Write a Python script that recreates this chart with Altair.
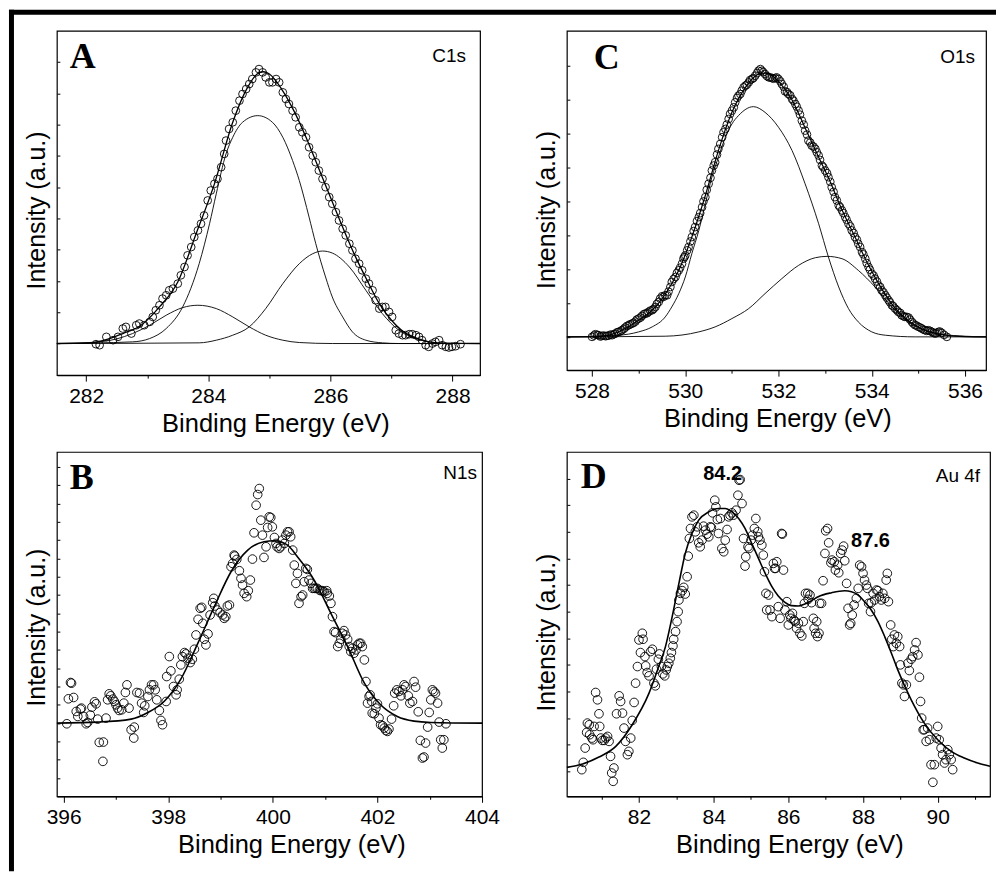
import altair as alt
import pandas as pd

# ---------------- Panel A : C1s ----------------
A_POINTS = [(282.16, 93), (282.22, 90), (282.33, 115), (282.44, 105), (282.52, 115), (282.60, 140), (282.65, 145),
            (282.74, 125), (282.82, 150), (282.87, 155), (282.95, 150), (283.04, 160), (283.09, 175), (283.14, 195),
            (283.20, 210), (283.25, 230), (283.31, 240), (283.36, 255), (283.42, 260), (283.50, 275), (283.55, 300),
            (283.61, 325), (283.66, 360), (283.72, 385), (283.77, 415), (283.83, 435), (283.88, 455), (283.93, 480),
            (283.99, 525), (284.04, 555), (284.10, 575), (284.15, 590), (284.21, 625), (284.26, 665), (284.29, 705),
            (284.34, 740), (284.40, 760), (284.45, 795), (284.51, 825), (284.56, 845), (284.62, 860), (284.67, 875),
            (284.72, 890), (284.78, 910), (284.83, 920), (284.89, 910), (284.94, 895), (285.00, 880), (285.05, 880),
            (285.11, 890), (285.16, 880), (285.22, 850), (285.27, 830), (285.32, 815), (285.38, 795), (285.43, 775),
            (285.49, 745), (285.54, 730), (285.60, 715), (285.65, 685), (285.71, 660), (285.76, 640), (285.81, 615),
            (285.87, 590), (285.92, 565), (285.98, 535), (286.03, 515), (286.09, 490), (286.14, 465), (286.20, 440),
            (286.25, 420), (286.31, 395), (286.36, 375), (286.41, 350), (286.47, 335), (286.52, 315), (286.58, 290),
            (286.63, 275), (286.69, 255), (286.74, 225), (286.80, 200), (286.85, 205), (286.90, 205), (286.96, 190),
            (287.01, 175), (287.07, 135), (287.12, 125), (287.18, 120), (287.23, 120), (287.29, 123), (287.34, 123),
            (287.40, 120), (287.45, 115), (287.50, 105), (287.56, 90), (287.61, 85), (287.67, 95), (287.72, 100),
            (287.78, 105), (287.83, 90), (287.89, 85), (287.94, 83), (287.99, 85), (288.05, 87), (288.13, 93)]
A_ENVELOPE = [(281.52, 95), (282.00, 96), (282.30, 105), (282.60, 125), (282.90, 150), (283.20, 205), (283.50, 280),
              (283.80, 425), (284.10, 575), (284.40, 760), (284.60, 850), (284.80, 905), (284.90, 912), (285.00, 905),
              (285.20, 860), (285.40, 795), (285.60, 715), (285.80, 625), (286.00, 535), (286.20, 445), (286.40, 360),
              (286.60, 285), (286.80, 215), (287.00, 165), (287.20, 130), (287.40, 112), (287.60, 101), (287.90, 96),
              (288.45, 95)]
A_PEAK1 = [(281.52, 95), (282.22, 100), (282.76, 125), (283.04, 150), (283.31, 180), (283.58, 203), (283.83, 210),
           (284.13, 200), (284.40, 175), (284.67, 145), (284.94, 120), (285.22, 105), (285.49, 98), (286.03, 95),
           (288.45, 95)]
A_PEAK2 = [(281.52, 95), (282.76, 100), (283.04, 110), (283.31, 140), (283.58, 205), (283.85, 335), (284.02, 455),
           (284.13, 545), (284.29, 665), (284.40, 715), (284.56, 760), (284.81, 780), (285.05, 760), (285.22, 715),
           (285.38, 645), (285.49, 585), (285.65, 475), (285.76, 395), (285.92, 295), (286.03, 235), (286.20, 175),
           (286.36, 130), (286.58, 105), (286.85, 97), (287.12, 95), (288.45, 95)]
A_PEAK3 = [(281.52, 95), (283.85, 97), (284.13, 105), (284.40, 120), (284.67, 145), (284.94, 200), (285.22, 275),
           (285.49, 335), (285.71, 365), (285.87, 373), (286.03, 367), (286.31, 325), (286.58, 255), (286.85, 185),
           (287.12, 135), (287.40, 110), (287.67, 98), (287.94, 95), (288.45, 95)]
A_XTICKS = [282, 283, 284, 285, 286, 287, 288]
A_YTICKS = [95, 189, 283, 377, 471, 565, 659, 753, 847, 941]

# ---------------- Panel C : O1s ----------------
C_POINTS = [(528.00, 100), (528.07, 108), (528.14, 105), (528.21, 103), (528.29, 102), (528.36, 104), (528.43, 105),
            (528.50, 110), (528.57, 115), (528.64, 120), (528.71, 128), (528.79, 135), (528.86, 140), (528.93, 146),
            (529.00, 155), (529.07, 163), (529.14, 170), (529.21, 175), (529.29, 180), (529.36, 190), (529.43, 205),
            (529.50, 222), (529.57, 225), (529.61, 225), (529.68, 250), (529.71, 265), (529.79, 280), (529.86, 300),
            (529.93, 320), (529.96, 335), (530.00, 345), (530.07, 370), (530.14, 400), (530.21, 430), (530.29, 460),
            (530.36, 490), (530.43, 520), (530.50, 560), (530.57, 600), (530.64, 625), (530.71, 665), (530.79, 700),
            (530.86, 725), (530.93, 755), (531.00, 780), (531.07, 805), (531.14, 825), (531.21, 840), (531.29, 855),
            (531.36, 865), (531.43, 875), (531.50, 885), (531.57, 900), (531.61, 905), (531.64, 900), (531.71, 890),
            (531.79, 880), (531.86, 878), (531.93, 878), (532.00, 875), (532.07, 860), (532.14, 838), (532.21, 830),
            (532.29, 815), (532.36, 800), (532.43, 780), (532.50, 750), (532.57, 720), (532.64, 690), (532.71, 675),
            (532.79, 665), (532.82, 655), (532.86, 645), (532.93, 615), (533.00, 600), (533.07, 580), (533.14, 550),
            (533.21, 520), (533.29, 495), (533.36, 480), (533.43, 460), (533.50, 440), (533.57, 420), (533.64, 400),
            (533.71, 380), (533.79, 355), (533.86, 335), (533.93, 310), (534.00, 290), (534.07, 275), (534.14, 255),
            (534.21, 240), (534.29, 225), (534.36, 210), (534.43, 195), (534.50, 185), (534.57, 175), (534.64, 165),
            (534.71, 160), (534.79, 158), (534.86, 145), (534.93, 135), (535.00, 130), (535.07, 125), (535.14, 120),
            (535.21, 120), (535.29, 115), (535.36, 110), (535.43, 115), (535.50, 112), (535.61, 100)]
# second row of the dense O1s scan (circles lying between the ones above)
C_POINTS_2 = [(528.04, 104), (528.11, 106), (528.18, 101), (528.25, 104), (528.32, 103), (528.40, 107),
              (528.47, 108), (528.54, 114), (528.61, 117), (528.68, 124), (528.75, 133), (528.82, 138),
              (528.89, 142), (528.96, 152), (529.04, 158), (529.11, 168), (529.18, 171), (529.25, 179),
              (529.32, 184), (529.39, 199), (529.46, 215), (529.53, 220), (529.64, 236), (529.75, 274),
              (529.82, 292), (529.89, 308), (529.98, 340), (530.04, 360), (530.11, 387), (530.18, 418),
              (530.25, 448), (530.32, 472), (530.39, 507), (530.46, 542), (530.54, 578), (530.61, 615),
              (530.68, 648), (530.75, 680), (530.82, 715), (530.89, 738), (530.96, 770), (531.04, 790),
              (531.11, 818), (531.18, 830), (531.25, 850), (531.32, 858), (531.39, 872), (531.46, 878),
              (531.54, 893), (531.67, 896), (531.75, 884), (531.82, 880), (531.89, 876), (531.96, 880),
              (532.04, 868), (532.11, 852), (532.18, 836), (532.25, 826), (532.32, 810), (532.39, 792),
              (532.46, 768), (532.54, 738), (532.61, 708), (532.68, 684), (532.75, 672), (532.89, 632),
              (532.96, 610), (533.04, 592), (533.11, 566), (533.18, 536), (533.25, 510), (533.32, 490),
              (533.39, 472), (533.46, 452), (533.54, 432), (533.61, 412), (533.68, 392), (533.75, 370),
              (533.82, 348), (533.89, 322), (533.96, 302), (534.04, 284), (534.11, 266), (534.18, 250),
              (534.25, 234), (534.32, 218), (534.39, 204), (534.46, 192), (534.54, 180), (534.61, 172),
              (534.68, 162), (534.75, 160), (534.82, 152), (534.89, 140), (534.96, 134), (535.04, 128),
              (535.11, 122), (535.18, 118), (535.25, 118), (535.32, 112), (535.39, 112), (535.46, 116),
              (535.55, 106)]
C_ENVELOPE = [(527.46, 100), (528.00, 100), (528.36, 105), (528.71, 125), (529.00, 150), (529.29, 180), (529.57, 228),
              (529.86, 300), (530.14, 400), (530.43, 525), (530.71, 660), (531.00, 775), (531.29, 850), (531.57, 890),
              (531.71, 893), (531.86, 886), (532.00, 868), (532.29, 812), (532.57, 728), (532.86, 640), (533.07, 578),
              (533.36, 482), (533.64, 400), (533.93, 315), (534.21, 245), (534.50, 186), (534.79, 148), (535.07, 124),
              (535.36, 110), (535.64, 104), (536.00, 101), (536.45, 100)]
C_PEAK1 = [(527.46, 100), (528.57, 105), (529.00, 115), (529.29, 130), (529.57, 160), (529.71, 190), (529.86, 230),
           (530.00, 280), (530.14, 350), (530.29, 420), (530.43, 500), (530.57, 580), (530.71, 640), (530.86, 700),
           (531.00, 740), (531.14, 765), (531.46, 792), (531.71, 775), (532.00, 730), (532.29, 660), (532.57, 560),
           (532.86, 440), (533.07, 340), (533.29, 250), (533.50, 185), (533.71, 145), (534.00, 115), (534.29, 105),
           (534.93, 100), (536.45, 100)]
C_PEAK2 = [(527.46, 100), (529.57, 102), (530.29, 115), (530.64, 130), (531.00, 155), (531.36, 185), (531.71, 230),
           (532.07, 275), (532.43, 315), (532.79, 338), (533.04, 342), (533.36, 335), (533.71, 300), (534.07, 250),
           (534.43, 190), (534.79, 145), (535.14, 120), (535.50, 108), (536.00, 102), (536.45, 100)]
C_XTICKS = [528, 529, 530, 531, 532, 533, 534, 535, 536]
C_YTICKS = [100, 202, 304, 406, 508, 610, 712, 814, 916]

# ---------------- Panel B : N1s ----------------
B_POINTS = [(396.06, 218), (396.09, 293), (396.13, 342), (396.15, 340), (396.19, 297), (396.24, 255), (396.27, 240),
            (396.32, 262), (396.34, 265), (396.38, 240), (396.43, 218), (396.46, 222), (396.51, 244), (396.54, 268),
            (396.59, 284), (396.62, 278), (396.65, 232), (396.68, 162), (396.75, 105), (396.76, 163), (396.81, 235),
            (396.84, 290), (396.87, 308), (396.90, 302), (396.94, 292), (396.97, 285), (397.00, 275), (397.03, 265),
            (397.06, 258), (397.11, 260), (397.15, 280), (397.18, 312), (397.21, 335), (397.25, 265), (397.29, 200),
            (397.34, 175), (397.35, 208), (397.40, 312), (397.45, 310), (397.49, 280), (397.53, 252), (397.55, 272),
            (397.61, 300), (397.64, 320), (397.68, 335), (397.72, 335), (397.75, 320), (397.78, 290), (397.83, 258),
            (397.86, 228), (397.89, 215), (397.96, 285), (397.97, 360), (398.02, 420), (398.05, 377), (398.10, 330),
            (398.15, 305), (398.17, 320), (398.21, 352), (398.24, 395), (398.27, 420), (398.31, 432), (398.34, 428),
            (398.38, 415), (398.42, 402), (398.46, 412), (398.50, 442), (398.53, 485), (398.57, 532), (398.61, 565),
            (398.64, 568), (398.66, 520), (398.69, 472), (398.72, 455), (398.76, 488), (398.80, 545), (398.85, 582),
            (398.87, 595), (398.89, 572), (398.94, 560), (398.99, 552), (399.04, 545), (399.07, 535), (399.10, 540),
            (399.13, 572), (399.17, 575), (399.20, 690), (399.23, 700), (399.26, 725), (399.27, 722), (399.31, 712),
            (399.36, 678), (399.39, 655), (399.42, 635), (399.45, 610), (399.50, 600), (399.53, 618), (399.57, 650),
            (399.61, 713), (399.64, 792), (399.68, 875), (399.71, 907), (399.74, 925), (399.77, 830), (399.80, 785),
            (399.83, 718), (399.87, 750), (399.90, 808), (399.93, 840), (399.96, 838), (399.99, 810), (400.03, 778),
            (400.06, 760), (400.08, 750), (400.12, 745), (400.15, 750), (400.18, 770), (400.22, 760), (400.25, 785),
            (400.28, 795), (400.31, 795), (400.34, 780), (400.38, 740), (400.41, 695), (400.44, 640), (400.47, 670),
            (400.50, 580), (400.54, 600), (400.57, 605), (400.60, 645), (400.63, 685), (400.66, 682), (400.69, 650),
            (400.73, 640), (400.76, 625), (400.79, 625), (400.82, 625), (400.85, 625), (400.89, 620), (400.92, 618),
            (400.95, 618), (400.98, 615), (401.03, 618), (401.04, 610), (401.08, 602), (401.11, 580), (401.14, 540),
            (401.17, 495), (401.20, 492), (401.24, 450), (401.27, 460), (401.30, 472), (401.33, 490), (401.36, 498),
            (401.39, 485), (401.43, 472), (401.46, 450), (401.49, 435), (401.52, 445), (401.55, 430), (401.59, 440),
            (401.62, 455), (401.65, 460), (401.68, 460), (401.71, 450), (401.75, 410), (401.78, 345), (401.81, 280),
            (401.84, 300), (401.86, 305), (401.89, 285), (401.90, 250), (401.94, 248), (401.97, 265), (402.00, 278),
            (402.03, 235), (402.06, 215), (402.10, 212), (402.13, 205), (402.16, 198), (402.19, 195), (402.22, 202),
            (402.27, 232), (402.31, 272), (402.33, 310), (402.37, 320), (402.41, 315), (402.45, 302), (402.48, 320),
            (402.51, 335), (402.54, 330), (402.59, 302), (402.62, 280), (402.67, 285), (402.70, 345), (402.73, 328),
            (402.78, 254), (402.82, 168), (402.86, 115), (402.89, 118), (402.92, 160), (402.96, 208), (402.99, 252),
            (403.02, 290), (403.05, 320), (403.08, 315), (403.11, 310), (403.15, 280), (403.18, 223), (403.21, 170),
            (403.24, 145), (403.27, 170), (403.31, 218)]
B_FIT = [(395.87, 220), (396.65, 223), (397.29, 232), (397.61, 252), (397.92, 285), (398.24, 352), (398.56, 458),
         (398.88, 570), (399.20, 675), (399.52, 740), (399.83, 765), (400.03, 768), (400.28, 755), (400.47, 720),
         (400.79, 650), (401.11, 550), (401.43, 450), (401.75, 340), (402.06, 275), (402.38, 240), (402.70, 226),
         (403.02, 222), (404.00, 220)]
B_XTICKS = [396, 397, 398, 399, 400, 401, 402, 403, 404]
B_YTICKS = [55, 110, 165, 220, 275, 330, 385, 440, 495, 550, 605, 660, 715, 770, 825, 880, 935, 990]

# ---------------- Panel D : Au 4f ----------------
D_POINTS = [(80.47, 80), (80.51, 102), (80.56, 145), (80.60, 192), (80.62, 220), (80.67, 215), (80.68, 185),
            (80.74, 175), (80.77, 170), (80.80, 210), (80.84, 312), (80.89, 290), (80.93, 248), (80.95, 210),
            (80.98, 175), (81.02, 168), (81.07, 168), (81.11, 175), (81.16, 180), (81.20, 165), (81.24, 120),
            (81.27, 70), (81.31, 45), (81.33, 85), (81.40, 248), (81.47, 302), (81.51, 285), (81.56, 250),
            (81.60, 205), (81.64, 165), (81.69, 125), (81.73, 135), (81.78, 175), (81.82, 228), (81.87, 282),
            (81.91, 340), (81.96, 390), (82.00, 470), (82.04, 432), (82.09, 490), (82.11, 472), (82.16, 420),
            (82.18, 392), (82.22, 372), (82.27, 362), (82.31, 435), (82.36, 442), (82.40, 340), (82.44, 332),
            (82.47, 382), (82.52, 412), (82.55, 428), (82.60, 390), (82.64, 368), (82.69, 362), (82.73, 380),
            (82.76, 390), (82.80, 400), (82.84, 415), (82.87, 432), (82.91, 452), (82.93, 472), (82.98, 495),
            (83.02, 525), (83.05, 555), (83.07, 590), (83.11, 610), (83.16, 618), (83.20, 628), (83.24, 608),
            (83.29, 660), (83.32, 722), (83.35, 775), (83.38, 805), (83.42, 840), (83.47, 845), (83.51, 795),
            (83.56, 810), (83.60, 762), (83.64, 750), (83.69, 770), (83.73, 812), (83.78, 800), (83.82, 788),
            (83.87, 780), (83.91, 810), (83.94, 808), (83.97, 852), (84.03, 890), (84.06, 870), (84.10, 832),
            (84.13, 790), (84.18, 835), (84.22, 745), (84.27, 735), (84.31, 770), (84.36, 802), (84.40, 840),
            (84.44, 845), (84.49, 852), (84.53, 845), (84.60, 860), (84.65, 905), (84.68, 950), (84.71, 952),
            (84.76, 880), (84.80, 775), (84.84, 692), (84.86, 720), (84.92, 750), (84.95, 745), (85.00, 770),
            (85.04, 785), (85.09, 805), (85.13, 835), (85.18, 795), (85.20, 780), (85.24, 770), (85.29, 755),
            (85.33, 725), (85.36, 675), (85.40, 610), (85.42, 560), (85.47, 605), (85.51, 560), (85.56, 540),
            (85.60, 700), (85.63, 685), (85.66, 685), (85.69, 705), (85.73, 570), (85.78, 535), (85.82, 790),
            (85.84, 788), (85.87, 680), (85.91, 560), (85.96, 585), (86.00, 515), (86.04, 545), (86.07, 535),
            (86.11, 550), (86.15, 530), (86.18, 525), (86.22, 505), (86.27, 520), (86.31, 490), (86.36, 482),
            (86.40, 525), (86.43, 580), (86.46, 610), (86.52, 610), (86.53, 592), (86.58, 605), (86.62, 582),
            (86.67, 535), (86.69, 505), (86.73, 490), (86.76, 525), (86.78, 480), (86.82, 490), (86.84, 580),
            (86.89, 580), (86.93, 648), (86.98, 730), (87.00, 798), (87.05, 805), (87.08, 762), (87.14, 702),
            (87.17, 710), (87.23, 705), (87.26, 680), (87.32, 695), (87.35, 672), (87.40, 730), (87.44, 740),
            (87.48, 752), (87.51, 708), (87.56, 640), (87.60, 565), (87.64, 515), (87.67, 520), (87.71, 545),
            (87.76, 575), (87.82, 595), (87.87, 625), (87.91, 695), (87.96, 690), (88.00, 670), (88.04, 650),
            (88.09, 635), (88.12, 625), (88.15, 580), (88.20, 555), (88.22, 582), (88.27, 610), (88.31, 590),
            (88.36, 620), (88.40, 618), (88.44, 600), (88.49, 590), (88.53, 610), (88.58, 595), (88.62, 650),
            (88.65, 670), (88.68, 585), (88.74, 515), (88.77, 472), (88.81, 450), (88.84, 485), (88.89, 460),
            (88.93, 480), (88.98, 450), (89.00, 395), (89.04, 340), (89.08, 335), (89.11, 300), (89.16, 335),
            (89.20, 400), (89.24, 378), (89.29, 412), (89.33, 420), (89.38, 440), (89.42, 462), (89.47, 425),
            (89.51, 358), (89.54, 285), (89.57, 235), (89.61, 200), (89.64, 200), (89.69, 165), (89.73, 205),
            (89.78, 170), (89.82, 95), (89.87, 42), (89.91, 95), (89.96, 175), (90.00, 210), (90.04, 170),
            (90.09, 145), (90.13, 125), (90.18, 100), (90.22, 110), (90.27, 140), (90.31, 125), (90.36, 110),
            (90.40, 80)]
D_FIT = [(80.07, 87), (80.49, 97), (80.93, 118), (81.38, 150), (81.82, 215), (82.27, 310), (82.53, 390), (82.71, 450),
         (82.89, 540), (83.07, 640), (83.24, 730), (83.42, 790), (83.60, 830), (83.87, 855), (84.13, 865), (84.31, 865),
         (84.49, 855), (84.67, 835), (84.84, 805), (85.02, 760), (85.20, 715), (85.38, 670), (85.56, 630), (85.73, 602),
         (85.91, 583), (86.09, 573), (86.27, 572), (86.44, 578), (86.62, 588), (86.80, 600), (87.16, 612), (87.51, 618),
         (87.69, 615), (87.87, 605), (88.04, 585), (88.22, 560), (88.40, 525), (88.58, 480), (88.76, 430), (88.93, 380),
         (89.29, 290), (89.64, 220), (90.00, 170), (90.36, 135), (90.71, 115), (91.07, 100), (91.40, 90)]
D_PEAK_LABELS = [("84.2", 84.24, 950), ("87.6", 88.20, 750)]
D_XTICKS = [81, 82, 83, 84, 85, 86, 87, 88, 89, 90, 91]
D_YTICKS = [75, 155, 235, 315, 395, 475, 555, 635, 715, 795, 875, 955]

SANS = "Liberation Sans"
SERIF = "Liberation Serif"
X_TITLE = "Binding Energy (eV)"
Y_TITLE = "Intensity (a.u.)"


def x_axis(ticks, title_x):
    return alt.Axis(
        values=ticks, title=X_TITLE, titleX=title_x,
        labelExpr="datum.value % 2 === 0 ? datum.label : ''",
        tickSize={"condition": {"test": "datum.value % 2 === 0", "value": 6}, "value": 3},
        labelOverlap=False, labelFlush=False, labelPadding=4,
        grid=False, domainColor="black", domainWidth=1.3, tickColor="black", tickWidth=1,
        labelFont=SANS, labelFontSize=21, labelColor="black",
        titleFont=SANS, titleFontSize=25.5, titleFontWeight="normal", titleColor="black", titlePadding=5,
    )


def y_axis(ticks, title_y):
    return alt.Axis(
        values=ticks, title=Y_TITLE, titleY=title_y, labels=False, domain=False, grid=False,
        ticks=True, tickSize=3, tickColor="black", tickWidth=1, offset=-3,
        titleFont=SANS, titleFontSize=25, titleFontWeight="normal", titleColor="black", titlePadding=7,
    )


def panel(point_sets, curves, xdom, ydom, xticks, yticks, w, h, psize, labels, tdx=0, tdy=0,
          extra=None, decor=None):
    xs = alt.Scale(domain=xdom, nice=False, zero=False)
    ys = alt.Scale(domain=ydom, nice=False, zero=False)
    X = alt.X("E:Q", scale=xs, axis=x_axis(xticks, w / 2 + tdx))
    Y = alt.Y("I:Q", scale=ys, axis=y_axis(yticks, h / 2 + tdy))
    layers = []
    for pts, sw in curves:
        df = pd.DataFrame(pts, columns=["E", "I"])
        layers.append(alt.Chart(df).mark_line(interpolate="monotone", color="black", strokeWidth=sw)
                      .encode(x=X, y=Y))
    for points in point_sets:
        pdf = pd.DataFrame(points, columns=["E", "I"])
        layers.append(alt.Chart(pdf).mark_point(shape="circle", filled=False, color="black", opacity=1,
                                                size=psize, strokeWidth=0.9).encode(x=X, y=Y))
    for text, px, py, align, font, weight, fsize in labels:
        tdf = pd.DataFrame({"t": [text]})
        layers.append(alt.Chart(tdf).mark_text(align=align, baseline="alphabetic", font=font,
                                               fontWeight=weight, fontSize=fsize, color="black")
                      .encode(x=alt.value(px), y=alt.value(py), text="t:N"))
    if extra:
        for text, e, i in extra:
            tdf = pd.DataFrame({"t": [text], "E": [e], "I": [i]})
            layers.append(alt.Chart(tdf).mark_text(align="center", baseline="alphabetic", font=SANS,
                                                   fontWeight="bold", fontSize=20, color="black")
                          .encode(x=X, y=Y, text="t:N"))
    if decor:
        layers.extend(decor)
    return alt.layer(*layers).properties(width=w, height=h)


# outer frame of the figure (heavy top and left rules)
frame_df = pd.DataFrame({"k": [0]})
top_rule = alt.Chart(frame_df).mark_rule(color="black", strokeWidth=5).encode(
    x=alt.value(-48), x2=alt.value(941), y=alt.value(-18.5))
left_rule = alt.Chart(frame_df).mark_rule(color="black", strokeWidth=5).encode(
    x=alt.value(-45.5), y=alt.value(-21), y2=alt.value(842))

A = panel([A_POINTS], [(A_PEAK1, 0.9), (A_PEAK2, 0.9), (A_PEAK3, 0.9), (A_ENVELOPE, 1.3)],
          [281.52, 288.45], [0, 1035], A_XTICKS, A_YTICKS, 424, 345, 60,
          [("A", 13, 37, "left", SERIF, "bold", 36), ("C1s", 410, 31, "right", SANS, "normal", 19)],
          tdx=7, tdy=7, decor=[top_rule, left_rule])

C = panel([C_POINTS, C_POINTS_2], [(C_PEAK1, 0.9), (C_PEAK2, 0.9), (C_ENVELOPE, 1.2)],
          [527.46, 536.45], [0, 1020], C_XTICKS, C_YTICKS, 420, 340, 60,
          [("C", 27, 38, "left", SERIF, "bold", 36), ("O1s", 409, 32, "right", SANS, "normal", 19)],
          tdx=1, tdy=9)

B = panel([B_POINTS], [(B_FIT, 1.6)],
          [395.87, 404.0], [0, 1035], B_XTICKS, B_YTICKS, 426, 345, 75,
          [("B", 13, 37, "left", SERIF, "bold", 36), ("N1s", 421, 27, "right", SANS, "normal", 19)],
          tdx=22, tdy=3)

D = panel([D_POINTS], [(D_FIT, 1.6)],
          [80.07, 91.40], [0, 1035], D_XTICKS, D_YTICKS, 424, 345, 75,
          [("D", 14, 36, "left", SERIF, "bold", 36), ("Au 4f", 414, 30, "right", SANS, "normal", 19)],
          tdx=11, tdy=8, extra=D_PEAK_LABELS)

chart = alt.concat(A, C, B, D, columns=2, spacing={"row": 77, "column": 85}, bounds="flush").properties(
    padding={"left": 5, "top": 5, "right": 0, "bottom": 0},
    background="white",
).configure_view(stroke="black", strokeWidth=1.2)

chart.save("out.html", embed_options={"renderer": "svg", "actions": False})
